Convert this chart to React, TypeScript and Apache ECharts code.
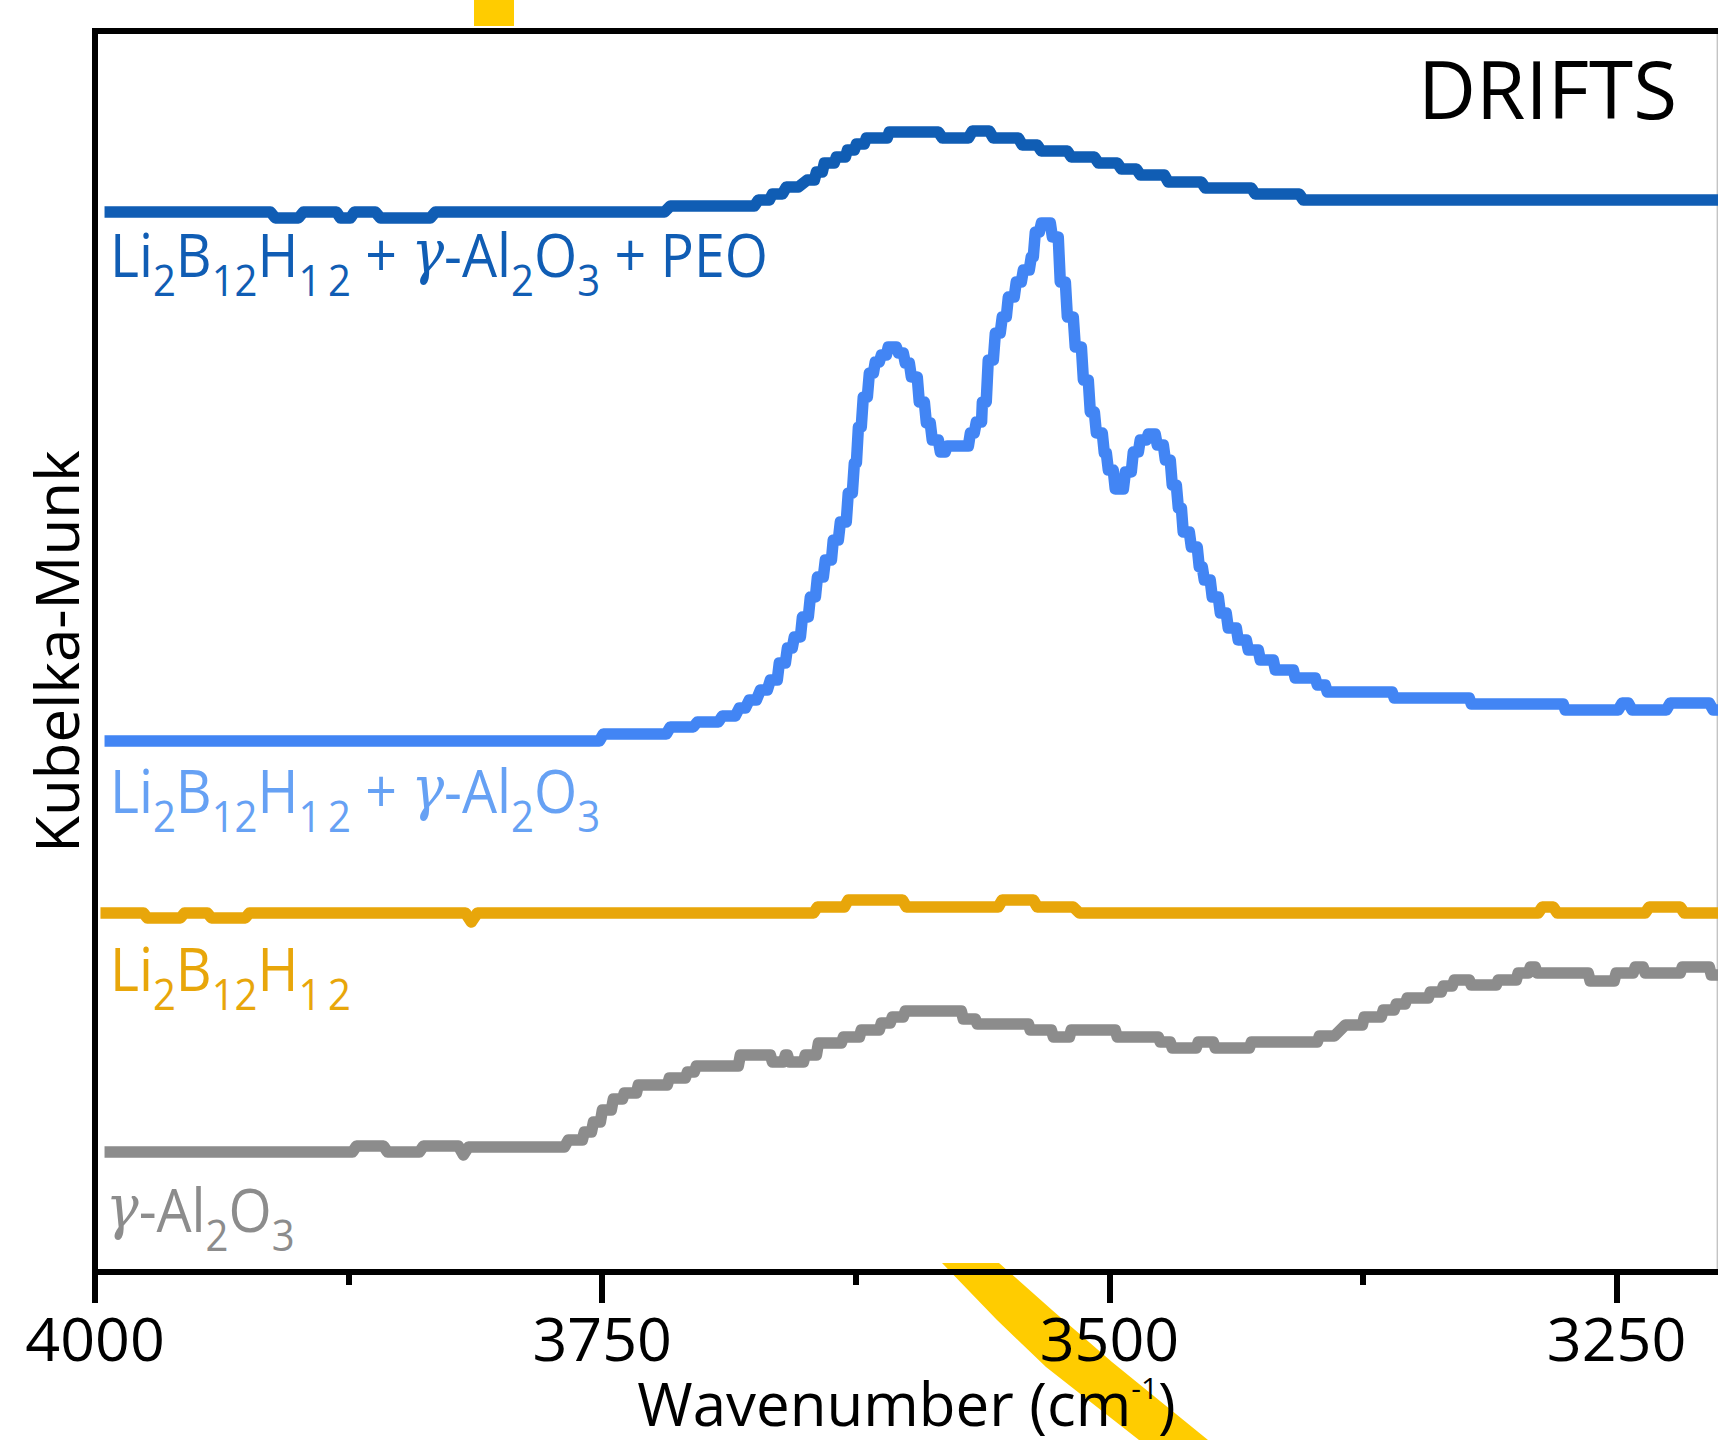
import React, { useEffect, useRef } from "react";
import * as echarts from "echarts";

const WN_MIN = 3200;
const WN_MAX = 4000;
const KM_MIN = 0;
const KM_MAX = 12.41;
const MAJOR_TICKS = [4000, 3750, 3500, 3250];
const MINOR_TICKS = [3875, 3625, 3375];

// Each step: [wavenumber start, wavenumber end, Kubelka-Munk (offset, a.u.)]
const peoSteps: number[][] = [
  [3995.3, 3913.5, 10.6], [3911.1, 3899.7, 10.54], [3897.3, 3881.0, 10.6], [3879.0, 3874.1, 10.54],
  [3872.1, 3861.8, 10.6], [3859.3, 3834.7, 10.54], [3832.2, 3719.3, 10.6], [3716.4, 3675.0, 10.66],
  [3673.0, 3667.6, 10.72], [3666.1, 3661.2, 10.78], [3659.2, 3653.3, 10.85], [3648.9, 3645.4, 10.92],
  [3644.4, 3641.5, 11.0], [3640.5, 3635.6, 11.09], [3634.6, 3630.1, 11.15], [3629.1, 3625.7, 11.22],
  [3624.7, 3620.8, 11.28], [3619.8, 3609.5, 11.34], [3608.5, 3584.3, 11.4], [3582.3, 3569.5, 11.34],
  [3567.5, 3559.2, 11.41], [3557.2, 3544.9, 11.34], [3542.9, 3535.5, 11.27], [3533.6, 3520.7, 11.21],
  [3518.8, 3507.4, 11.15], [3505.4, 3496.1, 11.09], [3494.1, 3486.7, 11.03], [3484.7, 3472.9, 10.97],
  [3471.0, 3454.7, 10.9], [3452.7, 3430.0, 10.84], [3428.1, 3406.4, 10.78], [3404.4, 3200.0, 10.72],
];

const alumSteps: number[][] = [
  [3995.3, 3751.4, 5.31], [3749.4, 3718.4, 5.38], [3716.4, 3705.1, 5.45], [3703.1, 3692.7, 5.5],
  [3690.8, 3684.4, 5.56], [3682.4, 3679.4, 5.64], [3677.5, 3674.0, 5.72], [3672.0, 3668.6, 5.82],
  [3667.1, 3663.7, 5.92], [3662.7, 3659.7, 6.09], [3658.7, 3656.3, 6.24], [3655.3, 3652.3, 6.35],
  [3651.3, 3648.4, 6.55], [3647.4, 3644.9, 6.75], [3643.9, 3641.0, 6.95], [3640.0, 3637.0, 7.12],
  [3636.1, 3633.6, 7.32], [3632.6, 3629.7, 7.5], [3628.7, 3626.7, 7.79], [3625.7, 3624.7, 8.09],
  [3623.7, 3622.3, 8.45], [3621.3, 3619.3, 8.75], [3618.3, 3616.3, 8.99], [3615.4, 3613.4, 9.1],
  [3612.4, 3609.9, 9.17], [3609.0, 3605.0, 9.25], [3604.0, 3601.6, 9.19], [3600.6, 3598.6, 9.09],
  [3597.6, 3594.7, 8.95], [3593.7, 3591.2, 8.7], [3590.2, 3588.3, 8.49], [3587.3, 3584.3, 8.32],
  [3583.3, 3580.9, 8.2], [3579.9, 3569.5, 8.26], [3568.5, 3566.6, 8.39], [3565.6, 3563.0, 8.5],
  [3562.6, 3560.7, 8.7], [3559.7, 3557.2, 9.12], [3556.2, 3553.8, 9.39], [3552.8, 3550.8, 9.55],
  [3549.8, 3546.9, 9.75], [3545.9, 3543.4, 9.9], [3542.4, 3539.5, 10.02], [3538.5, 3537.5, 10.15],
  [3536.5, 3534.5, 10.4], [3533.5, 3529.1, 10.49], [3528.1, 3525.2, 10.35], [3524.2, 3521.7, 9.9],
  [3520.7, 3517.8, 9.55], [3516.8, 3513.8, 9.25], [3512.8, 3510.4, 8.92], [3509.4, 3507.4, 8.6],
  [3506.4, 3503.5, 8.39], [3502.5, 3501.5, 8.19], [3500.5, 3498.1, 8.02], [3497.1, 3493.1, 7.83],
  [3492.1, 3489.2, 8.0], [3488.2, 3485.7, 8.2], [3484.8, 3481.8, 8.32], [3480.8, 3477.4, 8.38],
  [3476.4, 3473.4, 8.27], [3472.4, 3470.0, 8.12], [3469.0, 3467.0, 7.87], [3466.0, 3464.5, 7.64],
  [3463.6, 3460.6, 7.4], [3459.6, 3456.7, 7.25], [3455.7, 3454.2, 7.05], [3453.2, 3450.3, 6.92],
  [3449.3, 3446.3, 6.75], [3445.3, 3442.4, 6.59], [3441.4, 3437.4, 6.44], [3436.5, 3432.5, 6.32],
  [3431.5, 3426.6, 6.22], [3425.6, 3419.2, 6.12], [3418.2, 3409.3, 6.02], [3408.4, 3398.5, 5.94],
  [3397.5, 3393.6, 5.87], [3392.6, 3360.6, 5.8], [3359.6, 3322.6, 5.74], [3321.6, 3276.3, 5.68],
  [3275.3, 3249.2, 5.62], [3247.2, 3244.2, 5.69], [3242.3, 3225.5, 5.62], [3223.5, 3204.3, 5.69],
  [3202.4, 3200.0, 5.62],
];

const liSteps: number[][] = [
  [3997.3, 3976.1, 3.59], [3974.2, 3957.9, 3.54], [3955.9, 3944.6, 3.59], [3942.6, 3925.9, 3.54],
  [3923.9, 3817.4, 3.59], [3814.5, 3814.5, 3.5], [3811.5, 3645.8, 3.59], [3643.9, 3630.6, 3.65],
  [3628.7, 3602.0, 3.72], [3600.0, 3554.8, 3.65], [3552.8, 3537.5, 3.72], [3535.5, 3517.8, 3.65],
  [3514.8, 3288.6, 3.59], [3286.6, 3281.2, 3.65], [3279.2, 3235.9, 3.59], [3233.9, 3218.6, 3.65],
  [3216.6, 3200.0, 3.59],
];

const gammaSteps: number[][] = [
  [3995.3, 3873.1, 1.2], [3871.1, 3857.8, 1.26], [3855.8, 3840.1, 1.2], [3838.1, 3820.9, 1.26],
  [3818.4, 3818.4, 1.17], [3815.9, 3768.6, 1.25], [3766.7, 3759.8, 1.32], [3758.8, 3755.3, 1.4],
  [3754.3, 3750.9, 1.5], [3749.9, 3745.5, 1.62], [3744.5, 3740.0, 1.73], [3739.1, 3733.1, 1.79],
  [3732.2, 3717.9, 1.87], [3716.9, 3709.0, 1.94], [3708.0, 3704.6, 2.0], [3703.6, 3682.9, 2.06],
  [3681.9, 3667.1, 2.17], [3666.1, 3660.7, 2.1], [3659.7, 3658.7, 2.17], [3657.7, 3650.8, 2.1],
  [3649.9, 3644.4, 2.17], [3643.4, 3632.1, 2.29], [3631.1, 3623.2, 2.35], [3622.3, 3613.4, 2.42],
  [3612.4, 3608.0, 2.49], [3607.0, 3601.6, 2.55], [3600.6, 3573.0, 2.61], [3572.0, 3566.1, 2.53],
  [3565.1, 3539.9, 2.48], [3539.0, 3528.6, 2.42], [3527.6, 3519.7, 2.35], [3518.8, 3497.1, 2.42],
  [3496.1, 3475.9, 2.35], [3474.9, 3470.0, 2.3], [3469.0, 3457.2, 2.24], [3456.2, 3448.8, 2.3],
  [3447.8, 3431.0, 2.24], [3430.0, 3397.5, 2.3], [3396.5, 3389.1, 2.36], [3383.7, 3375.3, 2.47],
  [3374.4, 3366.0, 2.55], [3365.0, 3359.6, 2.62], [3358.6, 3354.2, 2.68], [3353.2, 3342.8, 2.74],
  [3341.8, 3336.4, 2.8], [3335.4, 3331.0, 2.86], [3330.0, 3322.6, 2.92], [3321.6, 3309.3, 2.87],
  [3308.3, 3299.4, 2.92], [3298.5, 3293.5, 2.99], [3292.5, 3290.1, 3.05], [3289.1, 3264.0, 2.99],
  [3263.0, 3251.2, 2.91], [3250.2, 3241.8, 2.99], [3240.8, 3236.9, 3.05], [3235.9, 3218.6, 2.99],
  [3217.6, 3204.3, 3.05], [3203.3, 3200.0, 2.97],
];

const SERIES_NAMES = [
  "Li2B12H12 + γ-Al2O3 + PEO",
  "Li2B12H12 + γ-Al2O3",
  "Li2B12H12",
  "γ-Al2O3",
];
const SERIES_COLORS = ["#105DB4", "#4285F4", "#E8A60A", "#8C8C8C"];
const LABEL_COLORS = ["#105DB4", "#66A1F4", "#E8A60A", "#8C8C8C"];
const LABEL_TEXTS = [
  "{m|Li}{s|2}{m|B}{s|12}{m|H}{s|1\u20092}{m| + }{g|γ}{m|-Al}{s|2}{m|O}{s|3}{m| + PEO}",
  "{m|Li}{s|2}{m|B}{s|12}{m|H}{s|1\u20092}{m| + }{g|γ}{m|-Al}{s|2}{m|O}{s|3}",
  "{m|Li}{s|2}{m|B}{s|12}{m|H}{s|1\u20092}",
  "{g|γ}{m|-Al}{s|2}{m|O}{s|3}",
];

const FONT = "'Open Sans', 'Noto Sans', sans-serif";

const toLine = (steps: number[][]) =>
  steps.flatMap(([a, b, v]) => (a === b ? [[a, v]] : [[a, v], [b, v]]));

export default function App() {
  const ref = useRef<HTMLDivElement>(null);

  useEffect(() => {
    if (!ref.current) return;
    const chart = echarts.init(ref.current, null, { renderer: "svg" });

    const allSteps = [peoSteps, alumSteps, liSteps, gammaSteps];
    // top of text block; main baseline sits ~74px below it
    const labelPos = [
      [110, 205],
      [110, 741],
      [110, 919],
      [106, 1160],
    ];

    const labelGraphics = LABEL_TEXTS.map((t, i) => ({
      type: "text",
      x: labelPos[i][0],
      y: labelPos[i][1],
      scaleX: 0.91,
      z: 20,
      silent: true,
      style: {
        text: t,
        fill: LABEL_COLORS[i],
        fontSize: 61,
        fontFamily: FONT,
        lineHeight: 96,
        align: "left",
        verticalAlign: "top",
        rich: {
          m: {
            fontSize: 61,
            fontFamily: FONT,
            lineHeight: 96,
            verticalAlign: "middle",
            fill: LABEL_COLORS[i],
          },
          g: {
            fontSize: 60,
            fontFamily: "'DejaVu Serif', serif",
            fontStyle: "italic",
            lineHeight: 96,
            verticalAlign: "middle",
            fill: LABEL_COLORS[i],
          },
          s: {
            fontSize: 44,
            fontFamily: FONT,
            lineHeight: 44,
            padding: [52, 0, 0, 0],
            verticalAlign: "middle",
            fill: LABEL_COLORS[i],
          },
        },
      },
    }));

    const option: any = {
      animation: false,
      backgroundColor: "#ffffff",
      grid: {
        left: 95,
        right: 0,
        top: 31,
        bottom: 168,
        containLabel: false,
        outerBoundsMode: "none",
      },
      xAxis: [
        {
          type: "value",
          position: "bottom",
          min: WN_MIN,
          max: WN_MAX,
          inverse: true,
          axisLine: { show: true, lineStyle: { color: "#000", width: 6 } },
          axisTick: {
            show: true,
            length: 31,
            customValues: MAJOR_TICKS,
            lineStyle: { color: "#000", width: 6 },
          },
          axisLabel: {
            show: true,
            customValues: MAJOR_TICKS,
            color: "#000",
            fontSize: 61,
            fontFamily: FONT,
            lineHeight: 61,
            margin: 35,
            formatter: (v: number) => String(v),
          },
          splitLine: { show: false },
          name: "Wavenumber (cm{sup|-1})",
          nameLocation: "middle",
          nameGap: 98,
          nameTextStyle: {
            color: "#000",
            fontSize: 60,
            fontFamily: FONT,
            lineHeight: 60,
            rich: {
              sup: { fontSize: 30, lineHeight: 40, verticalAlign: "top", color: "#000", fontFamily: FONT },
            },
          },
        },
        {
          type: "value",
          position: "bottom",
          min: WN_MIN,
          max: WN_MAX,
          inverse: true,
          axisLine: { show: false },
          axisTick: {
            show: true,
            length: 13,
            customValues: MINOR_TICKS,
            lineStyle: { color: "#000", width: 6 },
          },
          axisLabel: { show: false },
          splitLine: { show: false },
        },
      ],
      yAxis: {
        type: "value",
        min: KM_MIN,
        max: KM_MAX,
        axisLine: { show: true, lineStyle: { color: "#000", width: 6 } },
        axisTick: { show: false },
        axisLabel: { show: false },
        splitLine: { show: false },
        name: "Kubelka-Munk",
        nameLocation: "middle",
        nameGap: 9,
        nameTextStyle: { color: "#000", fontSize: 60, fontFamily: FONT, lineHeight: 60 },
      },
      series: allSteps.map((steps, i) => ({
        name: SERIES_NAMES[i],
        type: "line",
        xAxisIndex: 0,
        data: toLine(steps),
        showSymbol: false,
        symbol: "none",
        silent: true,
        clip: true,
        lineStyle: { color: SERIES_COLORS[i], width: 11.5, cap: "butt", join: "round" },
        z: 3,
      })),
      graphic: [
        {
          type: "polygon",
          z: -5,
          silent: true,
          shape: {
            points: [
              [942, 1263], [999, 1263], [1052, 1310], [1112, 1362], [1208, 1440],
              [1139, 1440], [1046, 1367], [997, 1320],
            ],
          },
          style: { fill: "#FFCC00" },
        },
        {
          type: "rect",
          silent: true,
          shape: { x: 474, y: 0, width: 40, height: 26 },
          style: { fill: "#FFCC00" },
        },
        {
          type: "rect",
          silent: true,
          z: 10,
          shape: { x: 92, y: 28, width: 1626, height: 6 },
          style: { fill: "#000" },
        },
        {
          type: "line",
          silent: true,
          shape: { x1: 1717.3, y1: 31, x2: 1717.3, y2: 1272 },
          style: { stroke: "#c4c4c4", lineWidth: 1.4 },
        },
        {
          type: "text",
          silent: true,
          z: 20,
          x: 1677,
          y: 87,
          style: {
            text: "DRIFTS",
            fill: "#000",
            fontSize: 80,
            fontFamily: FONT,
            align: "right",
            verticalAlign: "middle",
          },
        },
        ...labelGraphics,
      ],
    };

    chart.setOption(option);
    return () => chart.dispose();
  }, []);

  return (
    <div
      ref={ref}
      style={{ position: "absolute", left: 0, top: 0, width: 1718, height: 1440, background: "#fff" }}
    />
  );
}
